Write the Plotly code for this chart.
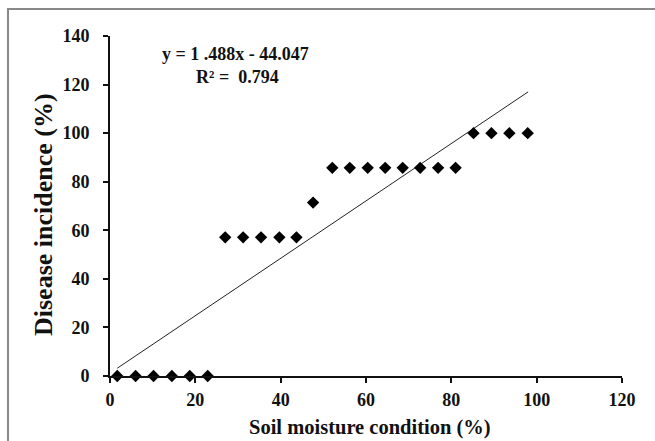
import plotly.graph_objects as go

# Data
soil_moisture = [1.7, 6.0, 10.2, 14.5, 18.7, 22.9,
                 27.0, 31.2, 35.4, 39.7, 43.7,
                 47.6,
                 52.1, 56.2, 60.4, 64.5, 68.6, 72.7, 76.9, 81.0,
                 85.2, 89.4, 93.6, 97.9]
disease_incidence = [0, 0, 0, 0, 0, 0,
                     57.1, 57.1, 57.1, 57.1, 57.1,
                     71.4,
                     85.7, 85.7, 85.7, 85.7, 85.7, 85.7, 85.7, 85.7,
                     100, 100, 100, 100]
trend_x = [1.7, 98.0]
trend_y = [3.2, 117.0]
x_ticks = [0, 20, 40, 60, 80, 100, 120]
y_ticks = [0, 20, 40, 60, 80, 100, 120, 140]
equation_text = "y = 1 .488x - 44.047"
r2_text = "R² =  0.794"

FONT = "Liberation Serif, Times New Roman, serif"
W, H = 655, 441
L, R, T, B = 110, 33, 36, 65
pw, ph = W - L - R, H - T - B

def px_x(p):
    return (p - L) / pw

def px_y(p):
    return (H - B - p) / ph

fig = go.Figure()
fig.add_trace(go.Scatter(x=trend_x, y=trend_y, mode="lines",
                         line=dict(color="#222", width=1), showlegend=False,
                         hoverinfo="skip"))
fig.add_trace(go.Scatter(x=soil_moisture, y=disease_incidence, mode="markers",
                         marker=dict(symbol="diamond", size=9.5, color="black"),
                         showlegend=False, cliponaxis=False))

axis_common = dict(showgrid=False, zeroline=False, showline=True,
                   linecolor="#111", linewidth=1.6, ticks="outside",
                   ticklen=5, tickwidth=1.6, tickcolor="#111",
                   tickfont=dict(family=FONT, size=18, color="#111"))

fig.update_layout(
    width=W, height=H,
    margin=dict(l=L, r=R, t=T, b=B),
    paper_bgcolor="white", plot_bgcolor="white",
    xaxis=dict(range=[0, 120], tickvals=x_ticks,
               ticktext=["<b>%d</b>" % v for v in x_ticks],
               ticklabelstandoff=2, **axis_common),
    yaxis=dict(range=[0, 140], tickvals=y_ticks,
               ticktext=["<b>%d</b>" % v for v in y_ticks],
               ticklabelstandoff=10, **axis_common),
    annotations=[
        dict(text="<b>Soil moisture condition (%)</b>", xref="paper", yref="paper",
             x=px_x(370), y=px_y(428), showarrow=False,
             font=dict(family=FONT, size=20.5, color="#111"),
             xanchor="center", yanchor="middle"),
        dict(text="<b>Disease incidence (%)</b>", xref="paper", yref="paper",
             x=px_x(43), y=px_y(215), showarrow=False, textangle=-90,
             font=dict(family=FONT, size=26, color="#111"),
             xanchor="center", yanchor="middle"),
        dict(text="<b>" + equation_text + "</b>", xref="paper", yref="paper",
             x=px_x(235), y=px_y(54), showarrow=False,
             font=dict(family=FONT, size=18, color="#111"),
             xanchor="center", yanchor="middle"),
        dict(text="<b>" + r2_text + "</b>", xref="paper", yref="paper",
             x=px_x(237), y=px_y(77), showarrow=False,
             font=dict(family=FONT, size=18, color="#111"),
             xanchor="center", yanchor="middle"),
    ],
    shapes=[
        dict(type="rect", xref="paper", yref="paper",
             x0=px_x(8), x1=px_x(W + 10), y0=px_y(H + 10), y1=px_y(9),
             line=dict(color="#888", width=2), fillcolor="rgba(0,0,0,0)"),
    ],
)

fig.write_html("out.html")
